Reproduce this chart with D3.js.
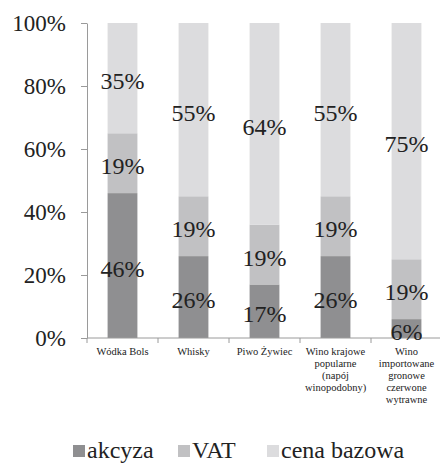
<!DOCTYPE html>
<html><head><meta charset="utf-8">
<script src="https://cdn.jsdelivr.net/npm/d3@7"></script>
<style>body{margin:0;background:#fff}svg{display:block}</style>
</head><body>
<svg id="c" width="440" height="464" font-family="Liberation Serif, serif"></svg>
<script>
const categories = [
  ["Wódka Bols"],
  ["Whisky"],
  ["Piwo Żywiec"],
  ["Wino krajowe","popularne","(napój","winopodobny)"],
  ["Wino","importowane","gronowe","czerwone","wytrawne"]
];
const seriesNames = ["akcyza","VAT","cena bazowa"];
const akcyza = [46,26,17,26,6];
const vat = [19,19,19,19,19];
const cenaBazowa = [35,55,64,55,75];
const yTicks = [0,20,40,60,80,100];
const colors = ["#8f8f91","#c1c1c3","#dcdcde"];

const FONT = "Liberation Serif, serif";
const svg = d3.select("#c");
const mLeft = 87, mRight = 442, mTop = 23, mBottom = 338;

const ids = categories.map((c,i)=>i);
const x = d3.scaleBand().domain(ids).range([mLeft,mRight]).paddingInner(0.58).paddingOuter(0.29);
const y = d3.scaleLinear().domain([0,100]).range([mBottom,mTop]);

const rows = ids.map(i=>({i, akcyza:akcyza[i], VAT:vat[i], "cena bazowa":cenaBazowa[i]}));
const stack = d3.stack().keys(seriesNames)(rows);

// bars
stack.forEach((layer,k)=>{
  svg.append("g").selectAll("rect").data(layer).join("rect")
    .attr("x",d=>x(d.data.i)).attr("width",x.bandwidth())
    .attr("y",d=>y(d[1])).attr("height",d=>y(d[0])-y(d[1]))
    .attr("fill",colors[k]);
});

// y axis
const ya = svg.append("g").attr("transform",`translate(${mLeft},0)`)
  .call(d3.axisLeft(y).tickValues(yTicks).tickFormat(d=>d+"%").tickSize(6).tickSizeOuter(0));
ya.attr("font-family",FONT).attr("font-size",23);
ya.select(".domain").attr("stroke","#9a9a9a");
ya.selectAll(".tick line").attr("stroke","#9a9a9a");
ya.selectAll(".tick text").style("font-family",FONT).style("font-size","23px").attr("fill","#222").attr("x",-21);

// x axis line
svg.append("line").attr("x1",mLeft).attr("x2",mRight).attr("y1",mBottom).attr("y2",mBottom).attr("stroke","#9a9a9a");
const band = x.step();
svg.append("g").selectAll("line").data(ids).join("line")
  .attr("x1",i=>x(i)+x.bandwidth()/2-band/2).attr("x2",i=>x(i)+x.bandwidth()/2-band/2)
  .attr("y1",mBottom).attr("y2",mBottom+5).attr("stroke","#9a9a9a");

// category labels
ids.forEach(i=>{
  const t = svg.append("text").attr("text-anchor","middle")
    .style("font-family",FONT).style("font-size","10.5px").attr("fill","#222");
  categories[i].forEach((line,j)=>{
    t.append("tspan").attr("x",x(i)+x.bandwidth()/2).attr("y",355+j*12).text(line);
  });
});

// value labels
stack.forEach((layer,k)=>{
  svg.append("g").selectAll("text").data(layer).join("text")
    .attr("x",d=>x(d.data.i)+x.bandwidth()/2)
    .attr("y",d=>(y(d[0])+y(d[1]))/2+11)
    .attr("text-anchor","middle").style("font-family",FONT).style("font-size","24px").attr("fill","#222")
    .text(d=>(d[1]-d[0])+"%");
});

// legend
const legX = [73,178,267];
const leg = svg.append("g");
seriesNames.forEach((n,k)=>{
  leg.append("rect").attr("x",legX[k]).attr("y",445).attr("width",12).attr("height",12).attr("fill",colors[k]);
  leg.append("text").attr("x",legX[k]+14).attr("y",458).style("font-family",FONT).style("font-size","24px")
    .attr("fill","#222").text(n);
});
</script>
</body></html>
